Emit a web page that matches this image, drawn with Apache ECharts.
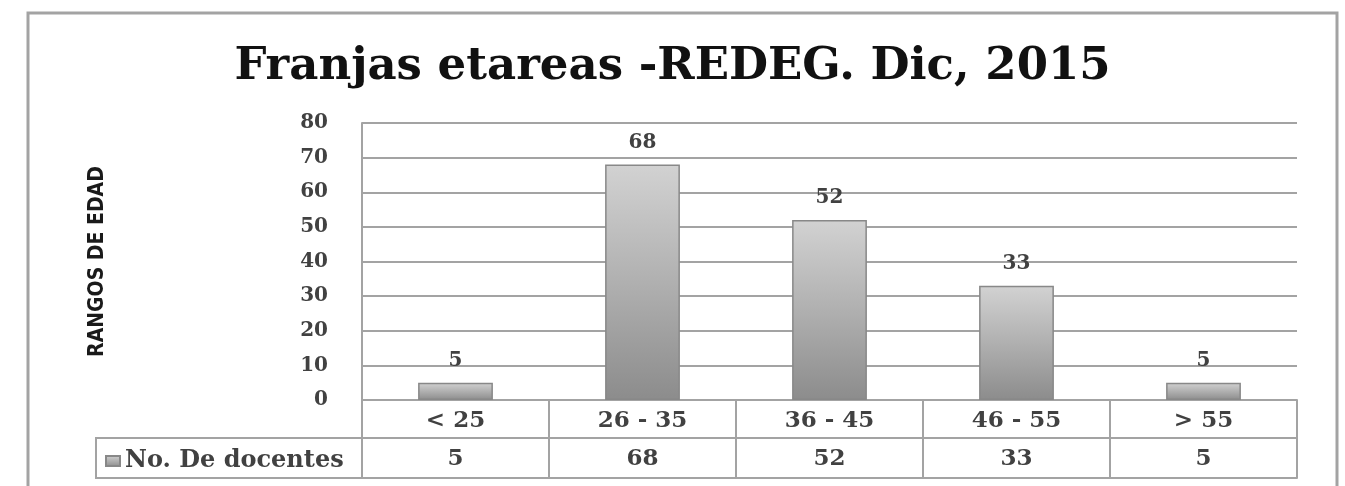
<!DOCTYPE html>
<html>
<head>
<meta charset="utf-8">
<script src="https://cdn.jsdelivr.net/npm/echarts@6/dist/echarts.min.js"></script>
<style>
html,body{margin:0;padding:0;background:#fff;}
#chart{width:1345px;height:486px;}
</style>
</head>
<body>
<div id="chart"></div>
<script>
const titleText = 'Franjas etareas -REDEG. Dic, 2015';
const categories = ['< 25', '26 - 35', '36 - 45', '46 - 55', '> 55'];
const seriesName = 'No. De docentes';
const values = [5, 68, 52, 33, 5];
const yTicks = [0, 10, 20, 30, 40, 50, 60, 70, 80];
const yAxisTitle = 'RANGOS DE EDAD';

const serif = "'DejaVu Serif', 'Liberation Serif', serif";
const lineColor = '#a3a3a3';
const textColor = '#414141';

const chart = echarts.init(document.getElementById('chart'), null, {renderer: 'canvas'});
const barColor = new echarts.graphic.LinearGradient(0, 0, 0, 1, [
  {offset: 0, color: '#d2d2d2'},
  {offset: 0.5, color: '#b0b0b0'},
  {offset: 1, color: '#8c8c8c'}
]);
const option = {
  backgroundColor: '#ffffff',
  animation: false,
  title: {
    text: titleText,
    left: 'center',
    top: 40,
    textStyle: {fontFamily: serif, fontWeight: 'bold', fontSize: 45, color: '#111111'}
  },
  legend: {
    data: [seriesName],
    left: 100,
    top: 444,
    icon: 'rect',
    itemWidth: 14,
    itemHeight: 10,
    itemGap: 6,
    textStyle: {fontFamily: serif, fontWeight: 'bold', fontSize: 24, color: textColor}
  },
  grid: {left: 362, right: 48, top: 123, bottom: 86, containLabel: false},
  xAxis: [
    {
      type: 'category',
      data: categories,
      position: 'bottom',
      axisLine: {show: true, lineStyle: {color: lineColor, width: 2}},
      axisTick: {show: true, length: 78, interval: 0, lineStyle: {color: lineColor, width: 2}},
      axisLabel: {interval: 0, margin: 10, fontFamily: serif, fontWeight: 'bold', fontSize: 23, color: textColor}
    },
    {
      type: 'category',
      data: categories,
      position: 'bottom',
      offset: 38,
      axisLine: {show: true, lineStyle: {color: lineColor, width: 2}},
      axisTick: {show: false},
      axisLabel: {interval: 0, margin: 10, fontFamily: serif, fontWeight: 'bold', fontSize: 23, color: textColor,
        formatter: function (v, i) { return String(values[i]); }}
    },
    {
      type: 'category',
      data: categories,
      position: 'bottom',
      offset: 78,
      axisLine: {show: true, lineStyle: {color: lineColor, width: 2}},
      axisTick: {show: false},
      axisLabel: {show: false}
    }
  ],
  yAxis: {
    type: 'value',
    min: yTicks[0],
    max: yTicks[yTicks.length - 1],
    interval: yTicks[1] - yTicks[0],
    name: yAxisTitle,
    nameLocation: 'middle',
    nameRotate: 90,
    nameGap: 254,
    nameTextStyle: {fontFamily: "'DejaVu Sans Condensed', 'Liberation Sans Narrow', sans-serif", fontWeight: 'bold', fontSize: 21, color: '#1a1a1a'},
    axisLine: {show: true, lineStyle: {color: lineColor, width: 2}},
    axisTick: {show: false},
    splitLine: {show: true, lineStyle: {color: lineColor, width: 2}},
    axisLabel: {margin: 34, fontFamily: serif, fontWeight: 'bold', fontSize: 20, color: textColor}
  },
  series: [{
    name: seriesName,
    type: 'bar',
    xAxisIndex: 0,
    data: values,
    barWidth: '40%',
    itemStyle: {color: barColor, borderColor: '#888888', borderWidth: 1.5},
    label: {show: true, position: 'top', distance: 12, fontFamily: serif, fontWeight: 'bold', fontSize: 20, color: textColor}
  }],
  graphic: [
    {type: 'rect', shape: {x: 28, y: 13, width: 1309, height: 500}, style: {fill: 'none', stroke: lineColor, lineWidth: 3}, silent: true, z: -1},
    {type: 'rect', shape: {x: 96, y: 438, width: 266, height: 40}, style: {fill: 'none', stroke: lineColor, lineWidth: 2}, silent: true}
  ]
};
chart.setOption(option);
</script>
</body>
</html>
